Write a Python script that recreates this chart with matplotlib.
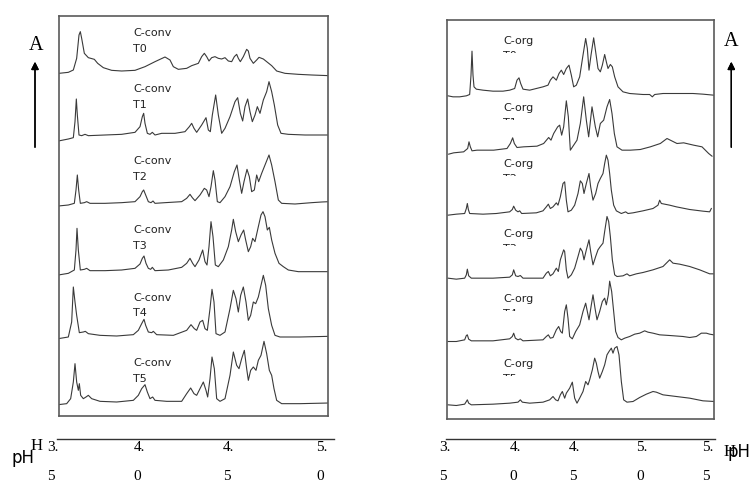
import numpy as np
import matplotlib
matplotlib.use('Agg')
import matplotlib.pyplot as plt
from matplotlib.lines import Line2D
from matplotlib.transforms import Bbox

W, H = 754, 484

# ---- left panel: C-conv, T0..T5 (retention, absorbance above baseline)
conv_names = ['T0', 'T1', 'T2', 'T3', 'T4', 'T5']
conv_t0 = [(12, 0), (40, 3), (55, 10), (65, 45), (72, 115), (76, 125), (80, 105), (88, 60), (100, 47), (118, 42),
           (128, 30), (145, 17), (170, 9), (200, 7), (240, 9), (270, 20), (300, 35), (330, 49), (345, 40), (355, 20),
           (370, 12), (395, 15), (410, 23), (430, 30), (440, 50), (448, 60), (455, 50), (462, 37), (470, 47),
           (480, 50), (490, 45), (500, 43), (510, 47), (520, 37), (530, 35), (538, 50), (545, 57), (550, 45),
           (556, 35), (565, 50), (575, 72), (580, 67), (585, 45), (595, 30), (605, 40), (612, 48), (625, 43),
           (635, 35), (650, 23), (665, 7), (690, 0), (730, -3), (770, -5), (822, -7)]
conv_t1 = [(10, -18), (40, -12), (55, -8), (60, 40), (64, 108), (67, 60), (72, 0), (80, -2), (90, 2), (100, -2),
           (150, 0), (200, 2), (240, 8), (255, 25), (262, 55), (266, 65), (270, 35), (277, 5), (285, 2), (292, 8),
           (300, 0), (320, 5), (360, 5), (390, 10), (403, 25), (410, 35), (417, 20), (425, 8), (440, 30),
           (453, 52), (460, 15), (466, 10), (472, 60), (482, 120), (490, 60), (500, 5), (510, 20), (525, 55),
           (540, 100), (548, 112), (556, 65), (563, 42), (570, 85), (578, 108), (585, 70), (592, 40), (600, 60),
           (607, 85), (615, 65), (625, 105), (635, 130), (642, 160), (650, 130), (658, 90), (668, 30), (678, 5),
           (700, 2), (750, 0), (822, 0)]
conv_t2 = [(10, -10), (40, -7), (58, -2), (63, 38), (67, 83), (71, 38), (76, -2), (88, 0), (95, 3), (105, -2),
           (150, -2), (200, 0), (240, 3), (255, 18), (262, 33), (266, 38), (272, 23), (280, 3), (288, 0), (294, 5),
           (300, -2), (330, 0), (380, 3), (395, 13), (405, 25), (412, 15), (420, 6), (435, 23), (448, 43),
           (455, 38), (462, 18), (468, 48), (475, 96), (480, 68), (487, 3), (495, 0), (510, 18), (525, 48),
           (538, 93), (546, 113), (553, 68), (560, 28), (567, 63), (576, 100), (583, 78), (590, 33), (598, 38),
           (605, 83), (611, 63), (620, 88), (632, 118), (642, 143), (650, 113), (660, 63), (670, 8), (680, -2),
           (720, -4), (770, 0), (800, 2), (822, 3)]
conv_t3 = [(10, -13), (40, -8), (58, 2), (63, 62), (66, 127), (70, 62), (76, 2), (88, 4), (95, 7), (105, 0),
           (150, 0), (200, 2), (240, 7), (255, 20), (262, 37), (267, 44), (273, 22), (280, 7), (287, 4), (292, 10),
           (300, 0), (340, 2), (380, 10), (395, 22), (405, 37), (413, 22), (420, 12), (432, 32), (443, 62),
           (450, 27), (456, 17), (462, 72), (468, 147), (474, 102), (481, 17), (490, 12), (505, 32), (520, 72),
           (530, 122), (535, 154), (542, 117), (550, 87), (558, 107), (566, 122), (572, 92), (580, 57), (587, 72),
           (593, 97), (600, 87), (610, 132), (618, 167), (624, 177), (630, 162), (637, 122), (643, 130), (650, 92),
           (660, 52), (672, 22), (685, 12), (700, 2), (730, -3), (780, -3), (822, -3)]
conv_t4 = [(10, -10), (40, -5), (50, 40), (55, 145), (60, 100), (65, 60), (73, 8), (85, 10), (91, 12), (100, 5),
           (135, 0), (185, -2), (235, 2), (250, 15), (260, 35), (267, 48), (272, 30), (280, 10), (290, 8),
           (295, 12), (305, 2), (355, 0), (395, 15), (408, 32), (418, 20), (425, 15), (435, 40), (443, 45),
           (450, 20), (457, 15), (465, 80), (471, 138), (477, 100), (483, 5), (495, 0), (510, 10), (525, 80),
           (535, 135), (543, 110), (550, 70), (557, 120), (565, 145), (573, 100), (580, 45), (587, 60), (595, 100),
           (602, 95), (610, 115), (618, 150), (625, 180), (632, 150), (640, 80), (650, 30), (660, 0), (675, -5),
           (735, -5), (822, -3)]
conv_t5 = [(10, -10), (35, -7), (47, 8), (55, 58), (60, 113), (65, 58), (70, 33), (73, 53), (77, 18), (85, 8),
           (93, 13), (100, 18), (110, 8), (135, 0), (185, -2), (235, 3), (250, 18), (260, 38), (270, 50), (277, 28),
           (285, 8), (293, 13), (300, 3), (335, 0), (380, 0), (395, 23), (407, 40), (417, 23), (425, 18), (435, 38),
           (445, 58), (453, 33), (458, 13), (465, 68), (471, 133), (478, 98), (485, 8), (495, 0), (510, 8),
           (525, 78), (535, 148), (545, 108), (552, 98), (560, 128), (568, 153), (575, 98), (580, 63), (587, 93),
           (595, 103), (603, 93), (610, 123), (618, 138), (627, 180), (635, 143), (643, 93), (650, 78), (657, 38),
           (665, 3), (680, -7), (735, -7), (822, -5)]
conv_traces = [conv_t0, conv_t1, conv_t2, conv_t3, conv_t4, conv_t5]

# ---- right panel: C-org, T0..T5
org_names = ['T0', 'T1', 'T2', 'T3', 'T4', 'T5']
org_t0 = [(15, -2), (30, -5), (50, -5), (70, -2), (80, 2), (84, 60), (87, 132), (90, 60), (93, 25), (100, 18),
          (120, 15), (150, 12), (180, 12), (200, 15), (215, 20), (222, 45), (228, 52), (233, 35), (240, 18),
          (260, 15), (280, 20), (300, 25), (315, 30), (322, 45), (330, 55), (340, 45), (348, 65), (355, 75),
          (362, 62), (370, 80), (378, 90), (385, 60), (392, 25), (400, 30), (410, 55), (420, 120), (428, 170),
          (433, 140), (438, 75), (444, 120), (452, 172), (458, 130), (465, 80), (472, 70), (478, 90), (485, 122),
          (490, 100), (495, 80), (502, 92), (508, 85), (515, 55), (525, 25), (540, 10), (560, 5), (600, 2),
          (620, 2), (628, -5), (635, 2), (660, 5), (700, 5), (750, 5), (780, 3), (812, 0)]
org_t1 = [(17, -7), (32, -3), (62, 0), (74, 10), (78, 30), (82, 15), (87, 3), (102, 5), (152, 5), (192, 10),
          (202, 25), (209, 42), (214, 25), (222, 13), (242, 15), (282, 17), (302, 25), (317, 43), (324, 35),
          (332, 55), (344, 75), (350, 80), (356, 50), (362, 75), (370, 153), (376, 105), (382, 5), (402, 35),
          (412, 85), (422, 165), (430, 95), (437, 45), (447, 135), (457, 75), (464, 45), (472, 85), (482, 95),
          (492, 135), (500, 157), (507, 115), (514, 55), (522, 15), (537, 5), (562, 5), (592, 7), (622, 15),
          (652, 25), (672, 40), (682, 35), (702, 25), (722, 27), (752, 20), (777, 15), (797, -5), (807, -13)]
org_t2 = [(15, -10), (40, -7), (65, -5), (70, 10), (73, 25), (76, 7), (80, -5), (120, -7), (160, -5), (200, 0),
          (208, 7), (212, 17), (218, 5), (225, 0), (230, 3), (236, -5), (280, -3), (300, 3), (310, 15), (316, 23),
          (322, 10), (330, 15), (340, 27), (345, 20), (352, 45), (360, 85), (365, 90), (370, 35), (375, 0),
          (385, 5), (395, 20), (405, 55), (412, 93), (418, 85), (423, 55), (430, 85), (438, 115), (443, 75),
          (450, 35), (458, 55), (465, 85), (472, 100), (480, 115), (485, 145), (490, 170), (495, 155), (500, 115),
          (505, 65), (512, 20), (520, 3), (535, -5), (548, 0), (555, -5), (570, -3), (600, 3), (630, 10),
          (645, 20), (650, 35), (655, 25), (680, 20), (700, 15), (740, 7), (780, 2), (800, 0), (805, 10)]
org_t3 = [(15, -3), (40, -6), (65, -3), (70, 7), (73, 24), (77, 4), (85, -3), (150, -3), (200, 0), (208, 7),
          (212, 22), (218, 4), (225, 2), (232, 5), (240, -3), (300, -3), (310, 12), (316, 17), (322, 4), (330, 10),
          (340, 27), (346, 17), (352, 52), (362, 82), (365, 77), (370, 22), (375, -3), (385, 7), (395, 27),
          (405, 62), (412, 87), (418, 77), (423, 52), (430, 82), (438, 112), (443, 77), (450, 37), (458, 62),
          (465, 82), (472, 92), (480, 102), (485, 137), (492, 182), (497, 167), (502, 122), (508, 52), (515, 7),
          (522, 2), (540, 4), (552, 10), (560, 4), (580, 10), (600, 14), (630, 22), (660, 32), (675, 47),
          (680, 52), (690, 42), (710, 39), (740, 32), (770, 22), (800, 10), (815, 10)]
org_t4 = [(15, -5), (40, -5), (65, 0), (70, 13), (73, 15), (77, 2), (85, -3), (150, -3), (200, 3), (208, 10),
          (212, 20), (217, 5), (225, 0), (232, 3), (240, -3), (300, 0), (310, 10), (316, 15), (322, 5), (330, 7),
          (340, 30), (347, 40), (353, 25), (358, 20), (365, 85), (370, 105), (375, 65), (380, 10), (388, 3),
          (398, 25), (410, 45), (420, 85), (428, 110), (433, 85), (438, 60), (445, 105), (450, 135), (456, 95),
          (462, 60), (470, 85), (478, 115), (485, 125), (490, 105), (496, 135), (500, 176), (506, 145),
          (512, 85), (518, 25), (525, 7), (535, 0), (545, 5), (560, 10), (575, 17), (590, 20), (605, 27),
          (615, 23), (630, 20), (650, 15), (680, 13), (720, 10), (740, 7), (760, 10), (775, 20), (790, 20),
          (800, 17), (812, 15)]
org_t5 = [(15, -5), (40, -7), (65, -3), (70, 5), (73, 10), (77, 0), (85, -5), (150, -3), (200, 0), (225, 3),
          (232, 10), (238, 3), (260, 0), (300, 3), (320, 10), (330, 20), (338, 10), (345, 7), (352, 25),
          (358, 35), (365, 15), (370, 30), (380, 45), (388, 63), (395, 15), (402, 0), (410, 15), (420, 35),
          (428, 65), (435, 55), (440, 70), (448, 100), (455, 135), (460, 120), (465, 95), (470, 75), (478, 95),
          (485, 115), (492, 145), (498, 155), (505, 165), (510, 150), (515, 165), (522, 170), (528, 145),
          (535, 65), (542, 10), (552, 3), (570, 5), (590, 17), (610, 27), (630, 35), (640, 33), (660, 25),
          (700, 20), (740, 15), (780, 7), (815, 5)]
org_traces = [org_t0, org_t1, org_t2, org_t3, org_t4, org_t5]

ph_conv = ['3.5', '4.0', '4.5', '5.0']
ph_org = ['3.5', '4.0', '4.5', '5.0', '5.5']


def fx(x):
    return x / W


def fy(y):
    return 1 - y / H


fig = plt.figure(figsize=(W / 100, H / 100), dpi=100)
fig.patch.set_facecolor('white')

line_col = '#3a3a3a'
box_col = '#5a5a5a'


def panel(rect, xlim, ylim, traces, bases):
    ax = fig.add_axes(rect)
    ax.set_xlim(*xlim)
    ax.set_ylim(*ylim)
    ax.set_xticks([])
    ax.set_yticks([])
    for s in ax.spines.values():
        s.set_color(box_col)
        s.set_linewidth(1.2)
    for tr, b in zip(traces, bases):
        a = np.array(tr, dtype=float)
        ax.plot(a[:, 0], a[:, 1] + b, color=line_col, lw=0.8)
    return ax


# left box (16..416 px tall), right box (20..418.5)
panel([fx(58.5), fy(416), (328 - 58.5) / W, (416 - 16) / H], (10.5, 819), (0, 1200),
      conv_traces, [1028, 843, 640, 436, 242, 44])
panel([fx(447), fy(418.5), (713.5 - 447) / W, (418.5 - 20) / H], (12, 811.5), (0, 1195.5),
      org_traces, [970, 800, 620, 424, 236, 46])

# sample labels
conv_rows = [32, 88, 160, 229, 297, 362.5]
for nm, y in zip(conv_names, conv_rows):
    fig.text(fx(133.3), fy(y + 4), 'C-conv', fontsize=8, color='#222', va='baseline')
    fig.text(fx(133.3), fy(y + 19.5), nm, fontsize=8, color='#222', va='baseline')

org_rows = [40, 106.7, 162.7, 232.7, 298.3, 363.3]
for nm, y in zip(org_names, org_rows):
    fig.text(fx(503), fy(y + 4), 'C-org', fontsize=8, color='#222', va='baseline')
    t = fig.text(fx(503), fy(y + 19.1), nm, fontsize=8, color='#222', va='baseline')
    # only the top of the second line survives in the original
    t.set_clip_box(Bbox([[490, H - (y + 13)], [530, H - (y + 9)]]))

# intensity arrows
for xa, xt, yt in [(35, 36.3, 45), (731.3, 730.7, 42)]:
    fig.text(fx(xt), fy(yt), 'A', family='Liberation Serif', fontsize=14.5, ha='center', va='center')
    fig.add_artist(plt.annotate('', xy=(xa, H - 59), xytext=(xa, H - 150), xycoords='figure pixels',
                                textcoords='figure pixels',
                                arrowprops=dict(arrowstyle='-|>', mutation_scale=11, lw=1.0, color='black')))

# bottom pH scales
fig.add_artist(Line2D([fx(57.3), fx(333.7)], [fy(438.7)] * 2, color='#333', lw=1.0))
fig.add_artist(Line2D([fx(446), fx(714.7)], [fy(438.7)] * 2, color='#333', lw=1.0))

serif = dict(family='Liberation Serif', fontsize=11, va='center', ha='left')
for lab, x in zip(ph_conv, [46.7, 133.3, 222.7, 316]):
    a, b = lab.split('.')
    fig.text(fx(x), fy(447.7), a + '.', **serif)
    fig.text(fx(x), fy(476.7), b, **serif)
for lab, x in zip(ph_org, [438.7, 509.3, 568.7, 636, 702]):
    a, b = lab.split('.')
    fig.text(fx(x), fy(447.7), a + '.', **serif)
    fig.text(fx(x), fy(476.7), b, **serif)

fig.text(fx(11.7), fy(463.3), 'pH', fontsize=12, va='baseline', ha='left')
fig.text(fx(31), fy(450), 'H', family='Liberation Serif', fontsize=12, va='baseline', ha='left')
fig.text(fx(723.7), fy(455.5), 'H', family='Liberation Serif', fontsize=12, va='baseline', ha='left')
fig.text(fx(727.5), fy(457), 'pH', fontsize=12, va='baseline', ha='left')

fig.savefig('out.png', dpi=100)
